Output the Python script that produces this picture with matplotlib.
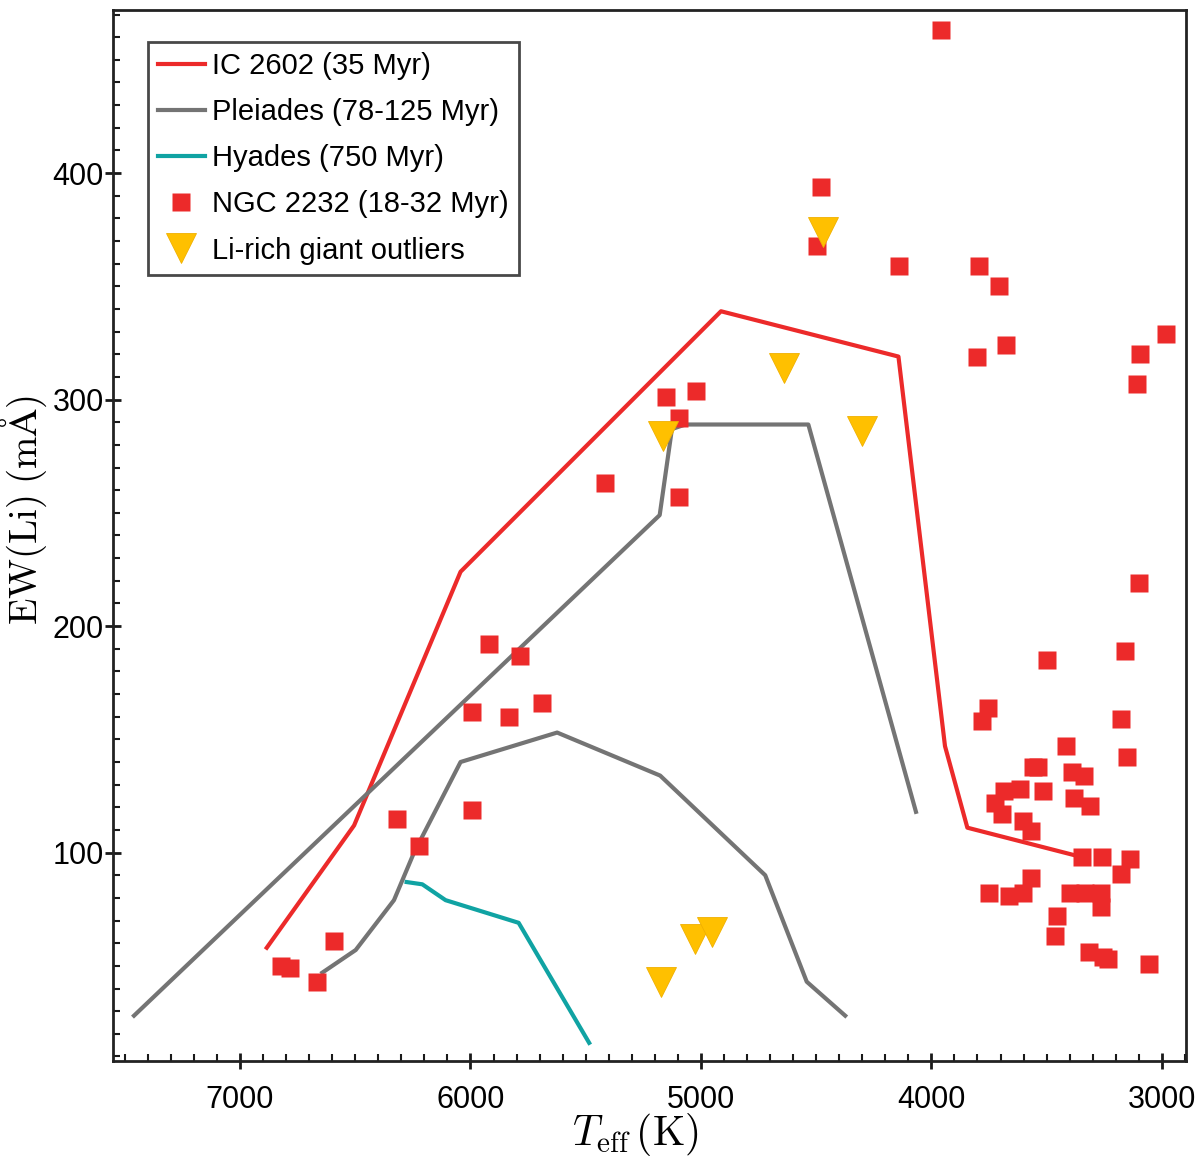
import matplotlib
matplotlib.use("Agg")
import matplotlib.pyplot as plt
from matplotlib.ticker import MultipleLocator

# lithium equivalent width vs effective temperature, NGC 2232 vs reference clusters

ic2602_teff = [6884, 6505, 6043, 4913, 4143, 3941, 3844, 3385]
ic2602_ew = [58, 112, 224, 339, 319, 147, 111, 99]

pleiades_upper_teff = [7460, 5179, 5126, 5068, 4534, 4067]
pleiades_upper_ew = [28, 249, 287, 289, 289, 118]

pleiades_lower_teff = [6643, 6498, 6332, 6245, 6043, 5624, 5177, 4721, 4541, 4374]
pleiades_lower_ew = [47, 57, 79, 100, 140, 153, 134, 90, 43, 28]

hyades_teff = [6277, 6209, 6108, 5791, 5485]
hyades_ew = [87, 86, 79, 69, 16]

ngc2232_teff = [3960, 4479, 4497, 4139, 3792, 3707, 3801, 3677, 2980, 3096,
                3108, 5150, 5023, 5095, 5415, 5097, 3099, 5920, 5783, 3160,
                3498, 5993, 5834, 5689, 3755, 3781, 3176, 3418, 3150, 5993,
                6318, 6224, 6592, 6824, 6783, 6668,
                3560, 3538, 3390, 3339, 3685, 3616, 3516, 3723, 3693, 3382,
                3310, 3603, 3568, 3347, 3260, 3138, 3178, 3568, 3750, 3663,
                3603, 3400, 3335, 3266, 3266, 3456, 3464, 3317, 3256, 3235,
                3057]
ngc2232_ew = [463, 394, 368, 359, 359, 350, 319, 324, 329, 320,
              307, 301, 304, 292, 263, 257, 219, 192, 187, 189,
              185, 162, 160, 166, 164, 158, 159, 147, 142, 119,
              115, 103, 61, 50, 49, 43,
              138, 138, 135.5, 134, 127, 128, 127, 122, 117, 124,
              120.5, 114, 109.5, 98, 98, 97, 90.5, 89, 82, 81,
              82, 82, 82, 82, 76, 72, 63, 56, 54, 53,
              51]

giant_teff = [4469, 4639, 4302, 5165, 5026, 4954, 5175]
giant_ew = [374, 314, 286, 284, 62, 65, 43]

plt.rcParams['font.family'] = ['Liberation Sans', 'DejaVu Sans']
plt.rcParams['mathtext.fontset'] = 'cm'

fig = plt.figure(figsize=(12, 11.64), dpi=100)
ax = fig.add_axes([0.094, 0.0885, 0.894, 0.9029])

ax.plot(ic2602_teff, ic2602_ew, color='#ec2a2a', lw=3, label='IC 2602 (35 Myr)', zorder=2)
ax.plot(pleiades_upper_teff, pleiades_upper_ew, color='#747474', lw=3,
        label='Pleiades (78-125 Myr)', zorder=2)
ax.plot(pleiades_lower_teff, pleiades_lower_ew, color='#747474', lw=3, zorder=2)
ax.plot(hyades_teff, hyades_ew, color='#10a3a3', lw=3, label='Hyades (750 Myr)', zorder=2)
ax.plot(ngc2232_teff, ngc2232_ew, ls='none', marker='s', ms=12.5, mec='none',
        color='#ec2a2a', label='NGC 2232 (18-32 Myr)', zorder=3)
ax.plot(giant_teff, giant_ew, ls='none', marker='v', ms=21, mec='#f0b000', mew=0.6,
        color='#ffc000', label='Li-rich giant outliers', zorder=4)

ax.set_xlim(7552, 2897)
ax.set_ylim(8, 472)

ax.xaxis.set_major_locator(MultipleLocator(1000))
ax.xaxis.set_minor_locator(MultipleLocator(100))
ax.yaxis.set_major_locator(MultipleLocator(100))
ax.yaxis.set_minor_locator(MultipleLocator(10))
ax.tick_params(which='major', direction='inout', length=11, width=2, labelsize=22,
               color='#1a1a1a')
ax.tick_params(which='minor', direction='in', length=5, width=1.5, color='#1a1a1a')
ax.tick_params(axis='x', which='major', pad=12)
ax.tick_params(axis='y', which='major', pad=1)
for sp in ax.spines.values():
    sp.set_linewidth(2)
    sp.set_color('#222222')

ax.set_xlabel(r'$T_{\rm eff}\,({\rm K})$', fontsize=30)
ax.xaxis.set_label_coords(0.487, -0.07)
ax.xaxis.label.set_va('center')
ax.set_ylabel(r'${\rm EW(Li)\;(m\AA)}$', fontsize=28)
ax.yaxis.set_label_coords(-0.083, 0.524)
ax.yaxis.label.set_va('center')

leg = ax.legend(loc='upper left', bbox_to_anchor=(0.0326, 0.9696), borderaxespad=0,
                fontsize=21, frameon=True, fancybox=False, handlelength=1.6,
                handletextpad=0.25, labelspacing=0.62, borderpad=0.35)
leg.get_frame().set_edgecolor('#1a1a1a')
leg.get_frame().set_linewidth(2)

fig.savefig('out.png', dpi=100)
